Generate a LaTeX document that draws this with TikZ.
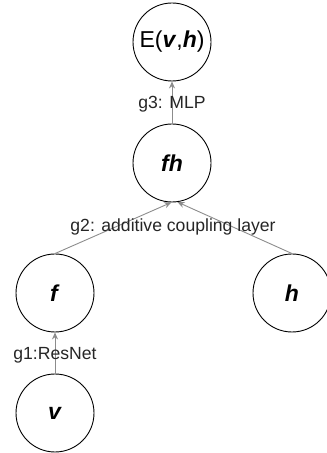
\documentclass[tikz,border=0pt]{standalone}
\usepackage{fontspec}
\setmainfont{Liberation Sans}
\usetikzlibrary{arrows.meta}
\tikzstyle{every node}=[font=\fontsize{17.6}{20}\selectfont]
\tikzset{StateStyle/.style = {
			shape          = circle,
			draw           = black,
			line width     = 0.9pt,
			text           = black,
			inner sep      = 0pt,
			minimum size   = 78pt,
			font           = \fontsize{23}{26}\selectfont},
		MapStyle/.style = {
			draw           = black!45,
			line width     = 0.9pt,
			-{Stealth[length=7pt,width=6pt]}},
		LabelStyle/.style = {
			text           = black!85,
			inner sep      = 1pt}
		}
\newcommand{\bvec}[1]{\textbf{\textit{#1}}}

\begin{document}
\begin{tikzpicture}[x=1pt,y=1pt]
	\useasboundingbox (0,0) rectangle (327,453);
	\draw (172,411) node[StateStyle] (E)  { E(\bvec{v},\bvec{h}) };
	\draw (172,290) node[StateStyle] (fh) { \bvec{fh} };
	\draw (55,160)  node[StateStyle] (f)  { \bvec{f} };
	\draw (292,160) node[StateStyle] (h)  { \bvec{h} };
	\draw (55,40)   node[StateStyle] (v)  { \bvec{v} };

	\draw[MapStyle]    (fh) to node[LabelStyle, pos=0.45] (g3) {g3: MLP} (E);
	\draw[MapStyle]    (f.north) to (fh.-91);
	\draw[MapStyle]    (h.north) to (fh.-82);
	\draw[MapStyle]    (v) to node[LabelStyle, pos=0.45] (g1) {g1:ResNet} (f);

	\draw (173,226) node[LabelStyle] (g2) {g2: additive coupling layer};
\end{tikzpicture}
\end{document}
